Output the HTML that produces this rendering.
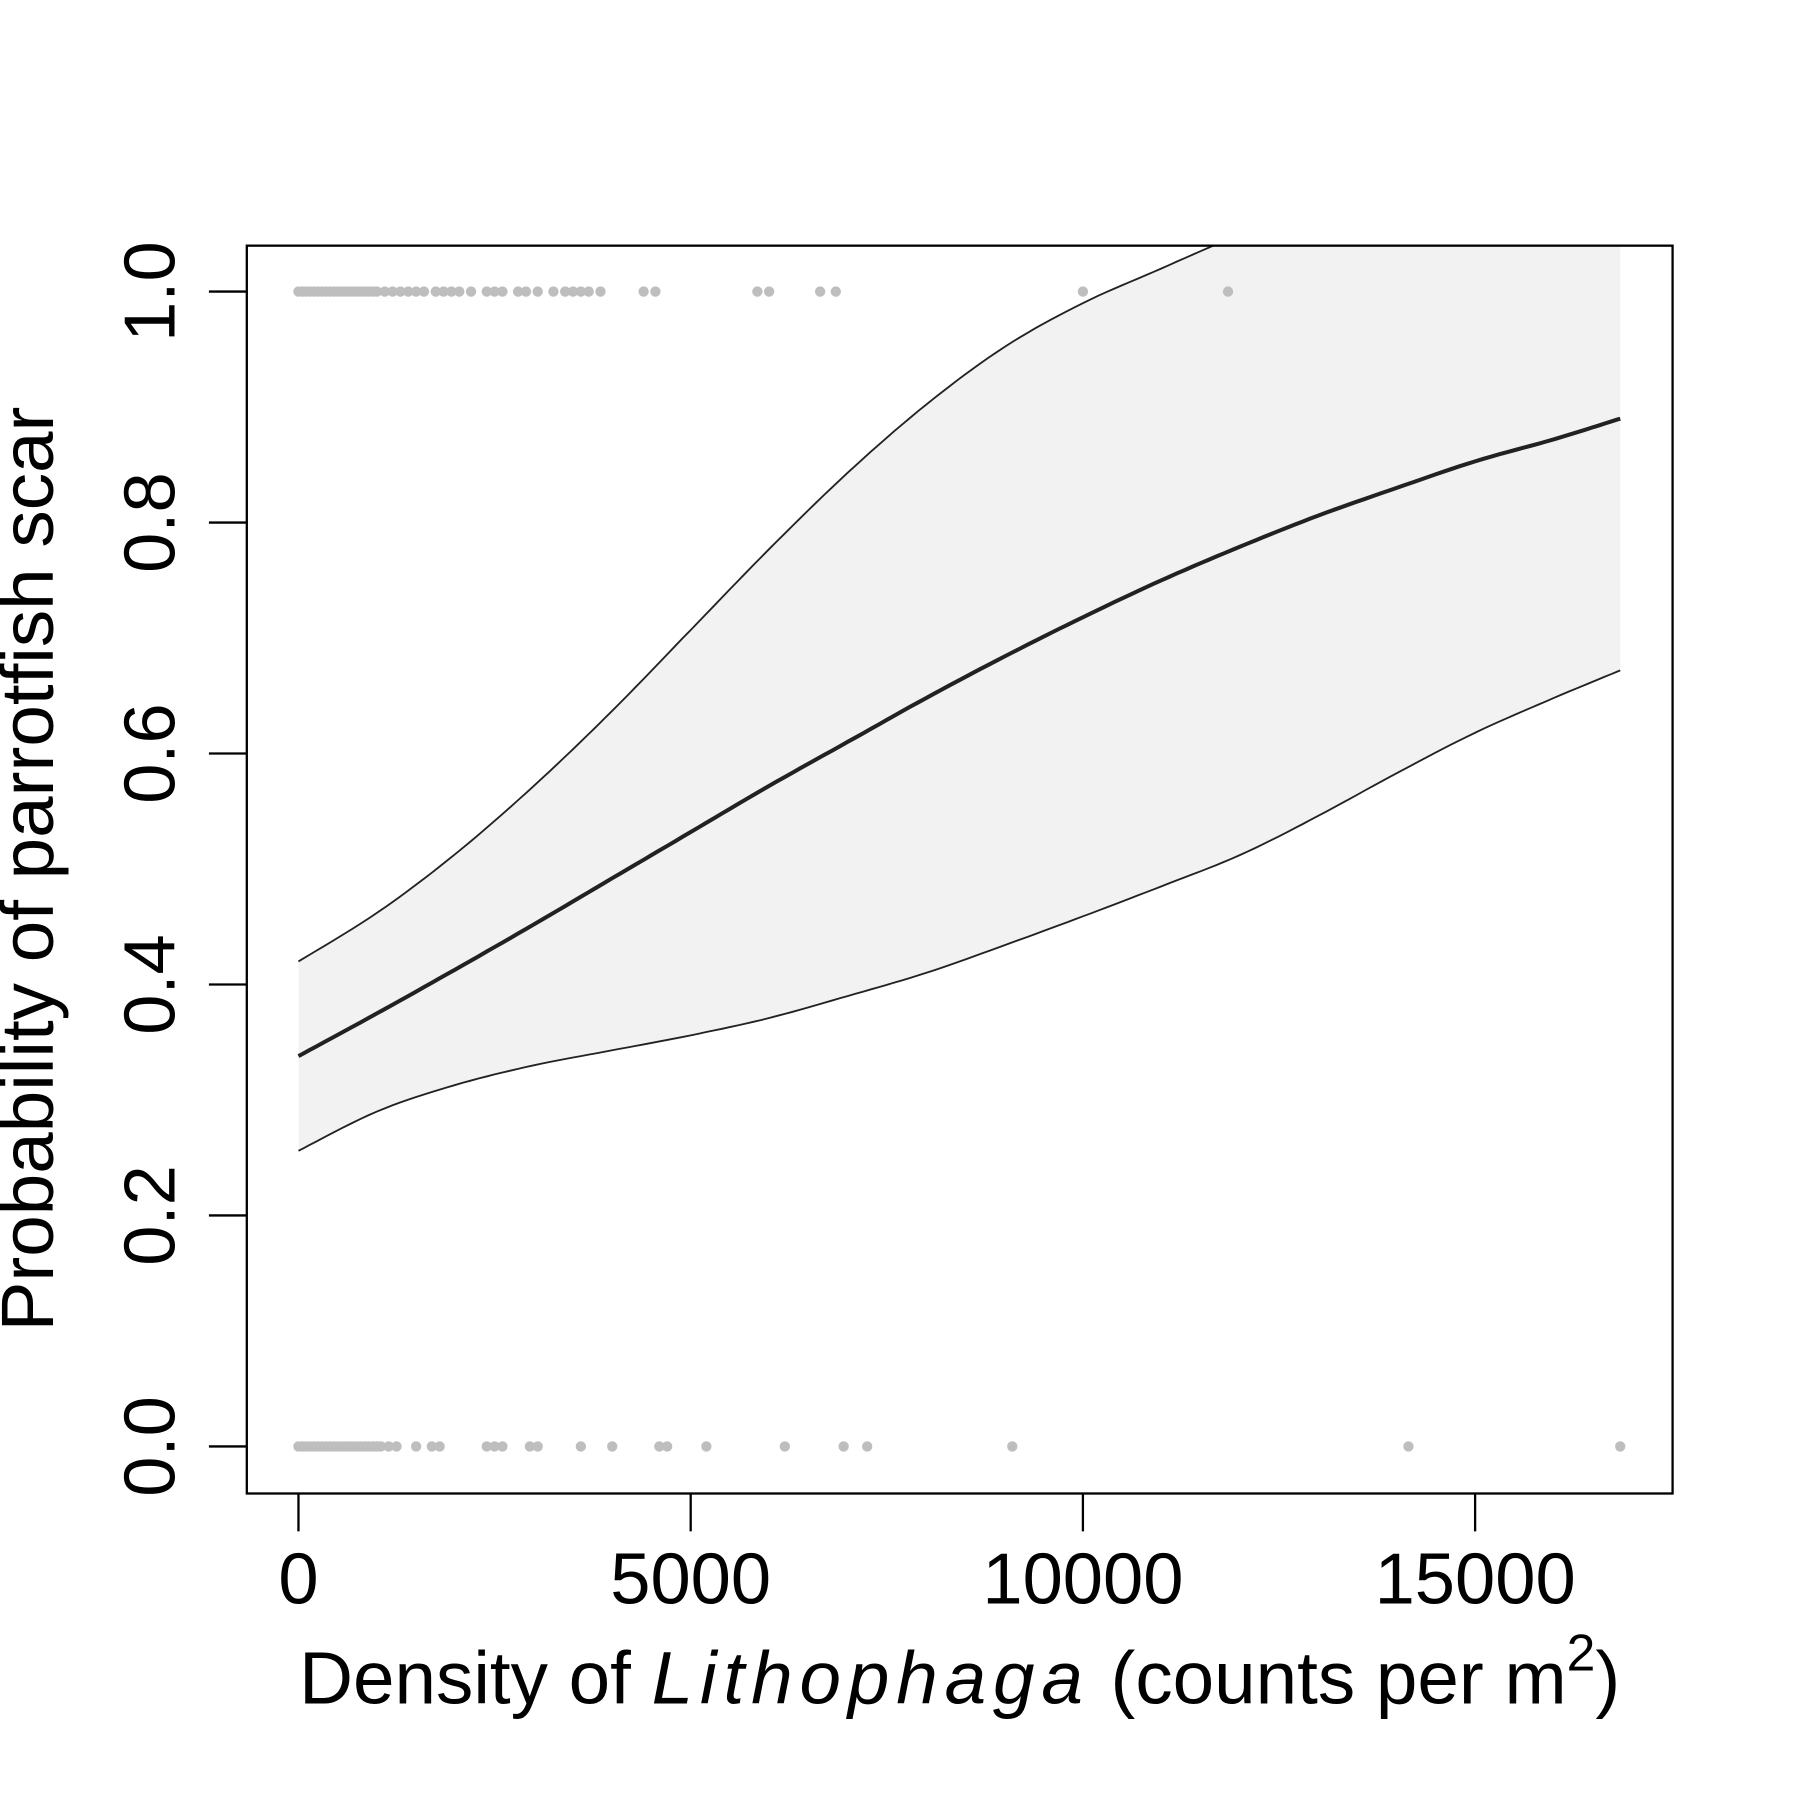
<!DOCTYPE html>
<html><head><meta charset="utf-8"><style>html,body{margin:0;padding:0;background:#fff}svg{display:block}text{font-family:"Liberation Sans",Arial,sans-serif;fill:#000}</style></head>
<body>
<svg id="chart" width="1800" height="1800" viewBox="0 0 1568 1568" xmlns="http://www.w3.org/2000/svg">
<defs><clipPath id="pc"><rect x="215" y="214" width="1242" height="1087"/></clipPath></defs>
<g id="band" clip-path="url(#pc)"></g>
<g id="pts" clip-path="url(#pc)"></g>
<g id="lines" clip-path="url(#pc)"></g>
<rect x="215" y="214" width="1242" height="1087" fill="none" stroke="#000" stroke-width="2"/>
<g id="axes"></g>
<text x="836" y="1484" font-size="65" text-anchor="middle">Density of <tspan font-style="italic" letter-spacing="6">Lithophaga</tspan> (counts per m<tspan font-size="45" dy="-29">2</tspan><tspan dy="29">)</tspan></text>
<text transform="translate(46,757) rotate(-90)" font-size="65" text-anchor="middle">Probability of parrotfish scar</text>
</svg>
<script>
const xs = [0,1000,2000,3000,4000,5000,6000,7000,8000,9000,10000,11000,12000,13000,14000,15000,16000,16850];
const fitMean = [.338,.375,.413,.452,.492,.532,.572,.61,.648,.684,.718,.75,.779,.806,.83,.853,.872,.89];
const fitUpper = [.42,.462,.513,.572,.637,.707,.777,.843,.902,.952,.99,1.02,1.05,1.08,1.1,1.12,1.13,1.14];
const fitLower = [.256,.29,.313,.33,.343,.356,.371,.39,.41,.434,.459,.485,.512,.546,.583,.618,.648,.672];
const scarX = [0,50,100,150,200,250,300,350,400,450,500,550,600,650,700,750,800,850,900,950,1000,1100,1200,1300,1400,1500,1600,1750,1850,1950,2050,2200,2400,2500,2600,2800,2900,3050,3250,3400,3500,3600,3700,3850,4400,4550,5850,6000,6650,6850,10000,11850];
const noScarX = [0,50,100,150,200,250,300,350,400,450,500,550,600,650,700,750,800,850,900,950,1000,1050,1150,1250,1500,1700,1800,2400,2500,2600,2950,3050,3600,4000,4600,4700,5200,6200,6950,7250,9100,14150,16850];
const xTicks = [0,5000,10000,15000];
const yTicks = [0,0.2,0.4,0.6,0.8,1.0];
const yTickLabels = ["0.0","0.2","0.4","0.6","0.8","1.0"];
const NS="http://www.w3.org/2000/svg";
const X = v => 260 + v*(1285-260)/15000;
const Y = v => 1260 - v*(1260-254);
function mk(tag, attrs, parent){const e=document.createElementNS(NS,tag);for(const k in attrs)e.setAttribute(k,attrs[k]);document.getElementById(parent).appendChild(e);return e;}
function smoothPts(arr){const p=arr.map((v,i)=>[X(xs[i]),Y(v)]);const out=[];for(let i=0;i<p.length-1;i++){const p0=p[Math.max(0,i-1)],p1=p[i],p2=p[i+1],p3=p[Math.min(p.length-1,i+2)];for(let s=0;s<10;s++){const t=s/10,t2=t*t,t3=t2*t;const f=(a,b,c,d)=>0.5*((2*b)+(-a+c)*t+(2*a-5*b+4*c-d)*t2+(-a+3*b-3*c+d)*t3);out.push([f(p0[0],p1[0],p2[0],p3[0]),f(p0[1],p1[1],p2[1],p3[1])]);}}out.push(p[p.length-1]);return out;}
const pathOf = arr => smoothPts(arr).map((q,i)=>(i?'L':'M')+q[0].toFixed(1)+','+q[1].toFixed(1)).join(' ');
let bd = pathOf(fitUpper);
smoothPts(fitLower).reverse().forEach(q=>{bd+=' L'+q[0].toFixed(1)+','+q[1].toFixed(1);});
const b = mk('path',{d:bd+' Z',fill:'#f2f2f2',stroke:'none'},'band');


scarX.forEach(v=>{const c=mk('circle',{cx:X(v),cy:Y(1),r:4.5,fill:'#bebebe'},'pts');

});
noScarX.forEach(v=>{const c=mk('circle',{cx:X(v),cy:Y(0),r:4.5,fill:'#bebebe'},'pts');

});
const lu = mk('path',{d:pathOf(fitUpper),fill:'none',stroke:'#222','stroke-width':1.6},'lines');


const ll = mk('path',{d:pathOf(fitLower),fill:'none',stroke:'#222','stroke-width':1.6},'lines');


const lm = mk('path',{d:pathOf(fitMean),fill:'none',stroke:'#222','stroke-width':3.5},'lines');


xTicks.forEach(v=>{const t=mk('line',{x1:X(v),x2:X(v),y1:1301,y2:1334,stroke:'#000','stroke-width':2},'axes');


const l=mk('text',{x:X(v),y:1397,'font-size':63,'text-anchor':'middle'},'axes');l.textContent=v;

});
yTicks.forEach((v,i)=>{const t=mk('line',{x1:182,x2:215,y1:Y(v),y2:Y(v),stroke:'#000','stroke-width':2},'axes');


const l=mk('text',{transform:'translate(152,'+Y(v)+') rotate(-90)','font-size':63,'text-anchor':'middle'},'axes');l.textContent=yTickLabels[i];

});
</script>
</body></html>
